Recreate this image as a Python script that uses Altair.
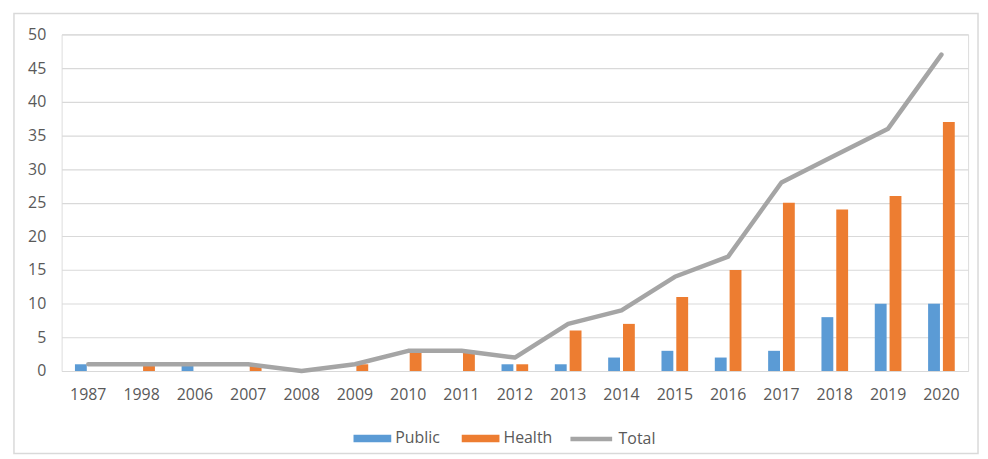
import altair as alt
import pandas as pd

years = ["1987", "1998", "2006", "2007", "2008", "2009", "2010", "2011", "2012",
         "2013", "2014", "2015", "2016", "2017", "2018", "2019", "2020"]
public = [1, 0, 1, 0, 0, 0, 0, 0, 1, 1, 2, 3, 2, 3, 8, 10, 10]
health = [0, 1, 0, 1, 0, 1, 3, 3, 1, 6, 7, 11, 15, 25, 24, 26, 37]
total = [1, 1, 1, 1, 0, 1, 3, 3, 2, 7, 9, 14, 17, 28, 32, 36, 47]

bar_names = ["Public", "Health"]
bar_colors = ["#5b9bd5", "#ed7d31"]
line_names = ["Total"]
line_colors = ["#a5a5a5"]

bar_rows = []
for y, p, h in zip(years, public, health):
    bar_rows.append({"year": y, "series": "Public", "value": p})
    bar_rows.append({"year": y, "series": "Health", "value": h})
bars_df = pd.DataFrame(bar_rows)
line_df = pd.DataFrame({"year": years, "series": "Total", "value": total})

FONT = "Open Sans"
GRAY_TXT = "#595959"

x_enc = alt.X("year:N", sort=years, title=None,
              scale=alt.Scale(paddingInner=0.5, paddingOuter=0.25),
              axis=alt.Axis(labelAngle=0, domain=False, ticks=False, labelPadding=16,
                            labelFontSize=16, labelFont=FONT, labelColor=GRAY_TXT))
y_enc = alt.Y("value:Q", title=None,
              scale=alt.Scale(domain=[0, 50], nice=False),
              axis=alt.Axis(values=list(range(0, 51, 5)), domain=False, ticks=False,
                            labelPadding=16, gridColor="#d9d9d9", gridWidth=1.2,
                            labelFontSize=16, labelFont=FONT, labelColor=GRAY_TXT))

bar_color = alt.Color("series:N", sort=bar_names,
                      scale=alt.Scale(domain=bar_names, range=bar_colors),
                      legend=alt.Legend(title=None, orient="none", direction="horizontal",
                                        legendX=294, legendY=388,
                                        symbolType="M-1,-0.2H1V0.2H-1Z", symbolSize=1444,
                                        symbolStrokeWidth=0, labelFontSize=16,
                                        labelFont=FONT, labelColor=GRAY_TXT,
                                        labelOffset=4, columnPadding=22))
line_color = alt.Color("series:N",
                       scale=alt.Scale(domain=line_names, range=line_colors),
                       legend=alt.Legend(title=None, orient="none", direction="horizontal",
                                         legendX=510, legendY=384,
                                         symbolType="stroke", symbolSize=1764,
                                         symbolStrokeWidth=4.5, labelFontSize=16,
                                         labelFont=FONT, labelColor=GRAY_TXT,
                                         labelOffset=4))

bars = alt.Chart(bars_df).mark_bar().encode(
    x=x_enc, y=y_enc, color=bar_color,
    xOffset=alt.XOffset("series:N", sort=bar_names,
                        scale=alt.Scale(paddingInner=0.2, paddingOuter=0)),
)

line = alt.Chart(line_df).mark_line(strokeWidth=4.5, strokeJoin="round", strokeCap="round").encode(
    x=x_enc, y=y_enc, color=line_color,
)

border = alt.Chart(pd.DataFrame({"a": [0]})).mark_rect(
    fill=None, stroke="#d9d9d9", strokeWidth=1.5
).encode(x=alt.value(-48), x2=alt.value(923), y=alt.value(-21), y2=alt.value(422))

chart = alt.layer(border, bars, line).resolve_scale(color="independent").properties(
    width=913, height=339,
    autosize=alt.AutoSizeParams(type="none"),
    padding={"left": 54, "top": 25, "right": 12, "bottom": 86},
).configure_view(stroke=None).configure(background="white")

chart.save("out.html", embed_options={"renderer": "svg", "actions": False})
